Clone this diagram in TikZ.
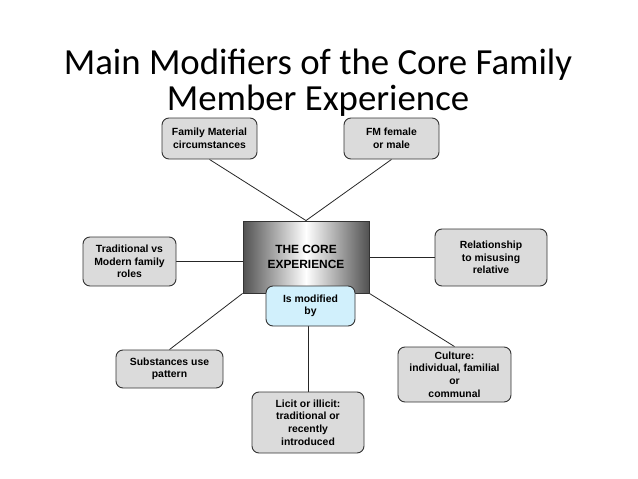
\documentclass[tikz,border=0pt]{standalone}
\usepackage{fontspec}
\setmainfont{Carlito}
\newfontfamily\boxfont{Liberation Sans}
\usetikzlibrary{positioning, backgrounds}

\begin{document}
\begin{tikzpicture}[
    x=1pt, y=-1pt,
    % Styles
    title/.style={% For the slide title
        font=\fontsize{36.8}{36}\selectfont,
        anchor=base,
        },
    modifier/.style={% For the grey boxes round the core
        rectangle,
        rounded corners=7pt,
        draw=black!80,
        fill=black!14,
        line width=0.9pt,
        align=center,
        inner sep=2pt,
        font=\boxfont\bfseries\fontsize{10.4}{12.6}\selectfont,
        },
    core/.style={% For the main box
        rectangle,
        draw=black!80,
        line width=0.9pt,
        left color=black!68,
        right color=black!68,
        middle color=white,
        align=center,
        font=\boxfont\bfseries\fontsize{11.9}{14.3}\selectfont,
        },
    note/.style={% For the light blue box under the core
        modifier,
        fill=cyan!18,
        },
    link/.style={% Connectors
        line width=0.8pt,
        draw=black!85,
        }
    ]
    \useasboundingbox (0,0) rectangle (638,479);

    % Title
    \node [title] (title1) at (318,74) {Main Modifiers of the Core Family};
    \node [title] (title2) at (318,110) {Member Experience};

    % Core and its note
    \node [core, minimum width=126pt, minimum height=72pt] (core) at (306,257) {THE CORE\\EXPERIENCE};
    \node [note, minimum width=89pt, minimum height=40pt] (modified) at (310.5,306) {Is modified\\by};

    % Modifiers
    \node [modifier, minimum width=95pt, minimum height=41pt] (famMat) at (209.5,138.5) {Family Material\\circumstances};
    \node [modifier, minimum width=95pt, minimum height=41pt] (fmSex) at (391.5,138.5) {FM female\\or male};
    \node [modifier, minimum width=93pt, minimum height=49pt] (trad) at (129.5,261.5) {Traditional vs\\Modern family\\roles};
    \node [modifier, minimum width=112pt, minimum height=57pt] (relat) at (491,257.5) {Relationship\\to misusing\\relative};
    \node [modifier, minimum width=107pt, minimum height=38pt] (subst) at (169.5,369) {Substances use\\pattern};
    \node [modifier, minimum width=112pt, minimum height=61pt] (licit) at (308,422.5) {Licit or illicit:\\traditional or\\recently\\introduced};
    \node [modifier, minimum width=113pt, minimum height=55pt] (culture) at (454.5,374.5) {Culture:\\individual, familial\\or\\communal};

    % Connectors
    \begin{scope}[on background layer]
        \draw [link] (famMat.south) -- (core.north);
        \draw [link] (fmSex.south) -- (core.north);
        \draw [link] (trad.east) -- (trad.east -| core.west);
        \draw [link] (core.east |- relat.west) -- (relat.west);
        \draw [link] (core.south west) -- (subst.north);
        \draw [link] (core.south east) -- (culture.north);
        \draw [link] (licit.north) -- (licit.north |- modified.south);
    \end{scope}
\end{tikzpicture}
\end{document}
